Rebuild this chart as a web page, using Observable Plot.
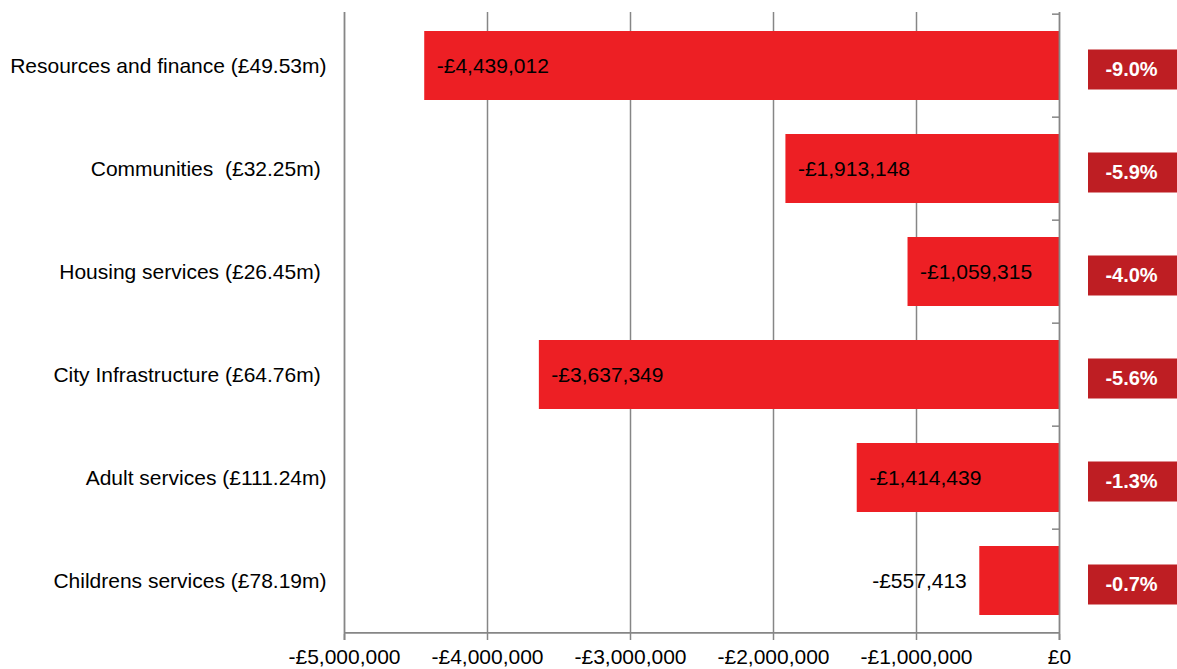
<!DOCTYPE html>
<html>
<head>
<meta charset="utf-8">
<script src="https://cdn.jsdelivr.net/npm/d3@7"></script>
<script src="https://cdn.jsdelivr.net/npm/@observablehq/plot@0.6"></script>
<style>
  html, body { margin: 0; padding: 0; background: #fff; }
  svg text { white-space: pre; }
</style>
</head>
<body>
<div id="chart"></div>
<script>
const categories = [
  "Resources and finance (£49.53m)",
  "Communities  (£32.25m) ",
  "Housing services (£26.45m) ",
  "City Infrastructure (£64.76m) ",
  "Adult services (£111.24m)",
  "Childrens services (£78.19m)"
];
const values = [-4439012, -1913148, -1059315, -3637349, -1414439, -557413];
const pctLabels = ["-9.0%", "-5.9%", "-4.0%", "-5.6%", "-1.3%", "-0.7%"];
const xTicks = [-5000000, -4000000, -3000000, -2000000, -1000000, 0];
const gridTicks = [-4000000, -3000000, -2000000, -1000000];

const data = categories.map((c, i) => ({category: c, value: values[i], pct: pctLabels[i]}));

const W = 1177, H = 669, mL = 344, mR = 118, mT = 12, mB = 35;
const n = categories.length;
const step = (H - mT - mB) / n;
const axisColor = "#868686";
const money = v => (v < 0 ? "-" : "") + "£" + d3.format(",")(Math.abs(v));

const chart = Plot.plot({
  width: W,
  height: H,
  marginLeft: mL,
  marginRight: mR,
  marginTop: mT,
  marginBottom: mB,
  style: {fontFamily: "'Liberation Sans', Arial, sans-serif", fontSize: "21px", color: "#000", background: "#fff", overflow: "visible"},
  x: {domain: [-5000000, 0]},
  y: {domain: categories, paddingInner: 1/3, paddingOuter: 1/6},
  marks: [
    Plot.ruleX(gridTicks, {stroke: axisColor, strokeWidth: 1.5}),
    Plot.barX(data, {y: "category", x: "value", fill: "#ED1F24"}),
    Plot.ruleX([-5000000, 0], {stroke: axisColor, strokeWidth: 1.8, insetBottom: -6}),
    Plot.ruleY([categories[n - 1]], {dy: step / 2, stroke: axisColor, strokeWidth: 1.8}),
    Plot.ruleY(categories, {x1: 0, x2: 0, insetLeft: -7, dy: -step / 2, stroke: axisColor, strokeWidth: 1.5}),
    Plot.axisX(xTicks, {tickSize: 6, tickPadding: 9, tickFormat: money, stroke: axisColor, strokeWidth: 1.5, fill: "#000", fontSize: 21, label: null}),
    Plot.axisY({tickSize: 0, tickPadding: 18, fontSize: 21, fill: "#000", label: null}),
    Plot.text(data.filter(d => d.value < -1000000), {y: "category", x: "value", text: d => money(d.value), textAnchor: "start", dx: 12, fill: "#000", fontSize: 21}),
    Plot.text(data.filter(d => d.value >= -1000000), {y: "category", x: "value", text: d => money(d.value), textAnchor: "end", dx: -13, fill: "#000", fontSize: 21}),
    Plot.barX(data, {y: "category", x1: 0, x2: 0, insetLeft: 29, insetRight: -118, insetTop: 18.5, insetBottom: 10.5, fill: "#BE1E23"}),
    Plot.text(data, {y: "category", x: 0, text: "pct", dx: 72, dy: 4, fill: "#fff", fontWeight: "bold", fontSize: 20})
  ]
});
document.getElementById("chart").appendChild(chart);
</script>
</body>
</html>
